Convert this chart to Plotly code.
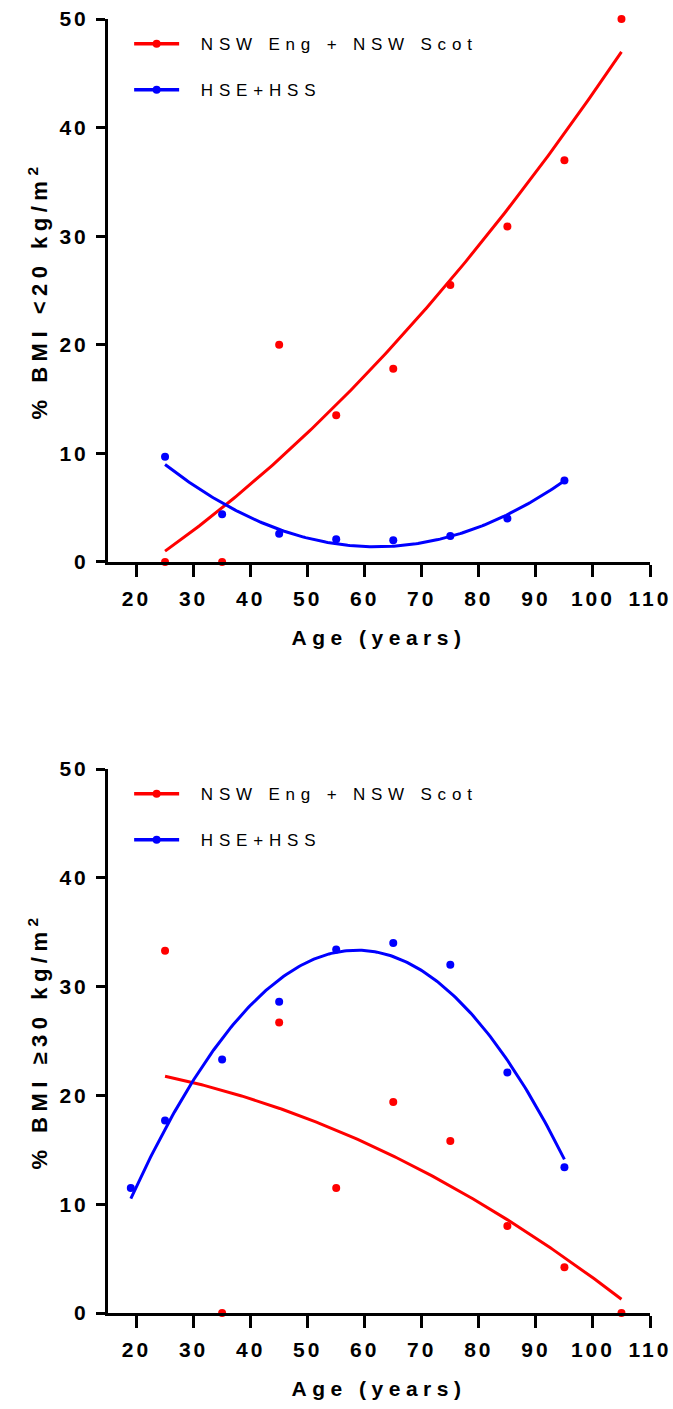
import numpy as np
import plotly.graph_objects as go

# ---------------- data ----------------
age_nsw_top = [25, 35, 45, 55, 65, 75, 85, 95, 105]
nsw_under20 = [0, 0, 20.0, 13.5, 17.8, 25.5, 30.9, 37.0, 50.0]
age_hse_top = [25, 35, 45, 55, 65, 75, 85, 95]
hse_under20 = [9.7, 4.4, 2.6, 2.1, 2.0, 2.4, 4.0, 7.5]

age_nsw_bot = [25, 35, 45, 55, 65, 75, 85, 95, 105]
nsw_over30 = [33.3, 0, 26.7, 11.5, 19.4, 15.8, 8.0, 4.2, 0]
age_hse_bot = [19, 25, 35, 45, 55, 65, 75, 85, 95]
hse_over30 = [11.5, 17.7, 23.3, 28.6, 33.4, 34.0, 32.0, 22.1, 13.4]

x_ticks = [20, 30, 40, 50, 60, 70, 80, 90, 100, 110]
y_ticks = [0, 10, 20, 30, 40, 50]

name_nsw = "NSW Eng + NSW Scot"
name_hse = "HSE+HSS"
RED = "#ff0000"
BLUE = "#0000ff"
FONT = "Liberation Sans, Arial, sans-serif"


def sp(text, px):
    return f'<span style="letter-spacing:{px}px">{text}</span>'


def fit(x, y):
    c = np.polyfit(x, y, 2)
    xs = np.linspace(min(x), max(x), 200)
    return xs, np.polyval(c, xs)


fig = go.Figure()

LEG_PAD = '<span style="letter-spacing:12px">\u00a0</span>'


def add_panel(xa, ya, legend, xn, yn, xh, yh):
    for (x, y, col, nm) in [(xn, yn, RED, name_nsw), (xh, yh, BLUE, name_hse)]:
        xs, ys = fit(x, y)
        fig.add_trace(go.Scatter(x=xs, y=ys, mode="lines", line=dict(color=col, width=3),
                                 xaxis=xa, yaxis=ya, showlegend=False, cliponaxis=False,
                                 hoverinfo="skip"))
        fig.add_trace(go.Scatter(x=x, y=y, mode="markers", marker=dict(color=col, size=8),
                                 xaxis=xa, yaxis=ya, showlegend=False, cliponaxis=False))
        fig.add_trace(go.Scatter(x=[None], y=[None], mode="lines+markers",
                                 line=dict(color=col, width=3.5), marker=dict(color=col, size=8),
                                 name=LEG_PAD + sp(nm, 5.8), legendgroup=nm + legend, legend=legend,
                                 xaxis=xa, yaxis=ya, showlegend=True))


add_panel("x", "y", "legend", age_nsw_top, nsw_under20, age_hse_top, hse_under20)
add_panel("x2", "y2", "legend2", age_nsw_bot, nsw_over30, age_hse_bot, hse_over30)

tickfont = dict(family=FONT, size=21, color="black", weight="bold")
ytitlefont = dict(family=FONT, size=22, color="black", weight="bold")
xtitlefont = dict(family=FONT, size=21, color="black", weight="bold")

xaxis_common = dict(range=[15, 110], tickvals=x_ticks, ticktext=[sp(str(v), 3) for v in x_ticks],
                    showline=True, linecolor="black", linewidth=3, ticks="outside",
                    ticklen=12, tickwidth=3, tickcolor="black", showgrid=False, zeroline=False,
                    ticklabelstandoff=4, automargin=False,
                    tickfont=tickfont, title=dict(text=sp("Age (years)", 5.5), font=xtitlefont, standoff=22))
yaxis_common = dict(range=[0, 50], tickvals=y_ticks, ticktext=[sp(str(v), 3) for v in y_ticks],
                    showline=True, linecolor="black", linewidth=3, ticks="outside",
                    ticklen=9, tickwidth=3, tickcolor="black", showgrid=False, zeroline=False,
                    ticklabelstandoff=3, automargin=False,
                    tickfont=tickfont)

fig.update_layout(
    width=673, height=1409,
    margin=dict(l=108, r=23, t=19, b=96, autoexpand=False),
    plot_bgcolor="white", paper_bgcolor="white",
    xaxis=dict(xaxis_common, domain=[0, 1], anchor="y"),
    yaxis=dict(yaxis_common, domain=[0.5804, 1.0], anchor="x",
               title=dict(text=sp("% BMI &lt;20 kg/m<sup>2</sup>", 5.5), font=ytitlefont, standoff=6)),
    xaxis2=dict(xaxis_common, domain=[0, 1], anchor="y2"),
    yaxis2=dict(yaxis_common, domain=[0.0, 0.4204], anchor="x2",
                title=dict(text=sp("% BMI ≥30 kg/m<sup>2</sup>", 5.5), font=ytitlefont, standoff=6)),
    legend=dict(x=0.039, y=0.9945, xanchor="left", yanchor="top", bgcolor="rgba(0,0,0,0)",
                font=dict(family=FONT, size=17, color="black"), itemwidth=45,
                tracegroupgap=21, traceorder="grouped"),
    legend2=dict(x=0.039, y=0.4149, xanchor="left", yanchor="top", bgcolor="rgba(0,0,0,0)",
                 font=dict(family=FONT, size=17, color="black"), itemwidth=45,
                 tracegroupgap=21, traceorder="grouped"),
    showlegend=True,
)

fig.write_html("out.html")
